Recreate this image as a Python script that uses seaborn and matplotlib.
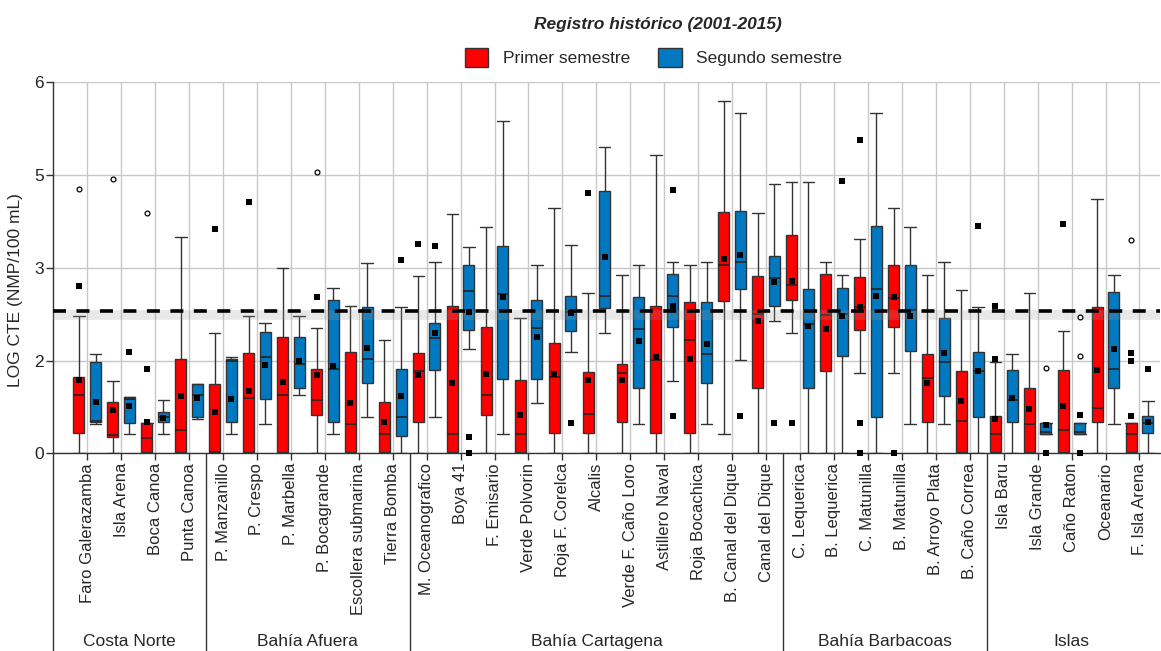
import numpy as np
import pandas as pd
import seaborn as sns
import matplotlib.pyplot as plt
import matplotlib.transforms as mtransforms
from matplotlib.patches import Patch

# --------------------------------------------------
# DATOS (log CTE, NMP/100 mL)
# --------------------------------------------------

estaciones = [
    "Faro Galerazamba", "Isla Arena", "Boca Canoa", "Punta Canoa",
    "P. Manzanillo", "P. Crespo", "P. Marbella", "P. Bocagrande",
    "Escollera submarina", "Tierra Bomba",
    "M. Oceanografico", "Boya 41", "F. Emisario", "Verde Polvorin",
    "Roja F. Corelca", "Alcalis", "Verde F. Caño Loro", "Astillero Naval",
    "Roja Bocachica", "B. Canal del Dique", "Canal del Dique",
    "C. Lequerica", "B. Lequerica", "C. Matunilla", "B. Matunilla",
    "B. Arroyo Plata", "B. Caño Correa",
    "Isla Baru", "Isla Grande", "Caño Raton", "Oceanario", "F. Isla Arena",
]
zonas = ["Costa Norte", "Bahía Afuera", "Bahía Cartagena", "Bahía Barbacoas", "Islas"]
n_por_zona = [4, 6, 11, 6, 5]

semestres = ["Primer semestre", "Segundo semestre"]
colores = ["#FF0000", "#0079C1"]

# primer semestre: bigote inf, Q1, mediana, Q3, bigote sup
p1_min = [0, 0, 0, 0, 0, 0, 0, 0, 0, 0,
          0, 0, 0, 0, 0, 0, 0, 0, 0, 0.31, 0,
          1.95, 0, 1.30, 1.30, 0, 0,
          0, 0, 0, 0, 0]
p1_q1 = [0.33, 0.27, 0.02, 0.02, 0.02, 0.02, 0.02, 0.62, 0.02, 0.02,
         0.50, 0.02, 0.62, 0.02, 0.33, 0.33, 0.50, 0.33, 0.33, 2.46, 1.06,
         2.48, 1.33, 2.00, 2.05, 0.50, 0.02,
         0.02, 0.02, 0.02, 0.50, 0.02]
p1_med = [0.95, 0.30, 0.25, 0.38, 0.02, 0.90, 0.95, 0.86, 0.47, 0.31,
          1.33, 0.31, 0.95, 0.31, 1.24, 0.63, 1.30, 1.51, 1.83, 3.05, 2.26,
          2.72, 2.24, 2.36, 2.51, 1.22, 0.53,
          0.31, 0.47, 0.38, 0.74, 0.31]
p1_q3 = [1.24, 0.83, 0.49, 1.52, 1.12, 1.62, 1.88, 1.37, 1.64, 0.83,
         1.62, 2.38, 2.04, 1.18, 1.79, 1.31, 1.44, 2.38, 2.44, 3.90, 2.86,
         3.53, 2.90, 2.85, 3.05, 1.60, 1.33,
         0.60, 1.05, 1.35, 2.36, 0.49]
p1_max = [2.22, 1.17, 0.49, 3.49, 1.95, 2.22, 3.00, 2.03, 2.38, 1.83,
          2.87, 3.87, 3.66, 2.18, 3.97, 2.60, 2.89, 4.83, 3.04, 5.69, 3.89,
          4.38, 3.10, 3.46, 3.97, 2.89, 2.64,
          1.48, 2.60, 1.97, 4.12, 0.49]

# segundo semestre
p2_min = [0.47, 0.31, 0.31, 0.55, 0.31, 0.47, 0.95, 0.31, 0.59, 0,
          0.59, 1.68, 0.31, 0.82, 1.64, 1.95, 0.47, 1.17, 0.47, 1.51, 2.14,
          0, 0, 0, 0.47, 0.47, 0,
          0, 0.31, 0.31, 0.47, 0]
p2_q1 = [0.50, 0.49, 0.50, 0.58, 0.50, 0.87, 1.06, 0.50, 1.13, 0.28,
         1.35, 2.00, 1.20, 1.20, 1.98, 2.35, 1.06, 2.05, 1.13, 2.65, 2.38,
         1.06, 1.58, 0.58, 1.65, 0.93, 0.58,
         0.50, 0.31, 0.31, 1.06, 0.33]
p2_med = [0.52, 0.88, 0.59, 0.95, 1.50, 1.56, 1.45, 1.36, 1.53, 0.59,
          1.86, 2.62, 2.57, 2.03, 2.29, 2.55, 2.01, 2.55, 1.61, 3.10, 2.83,
          2.09, 2.25, 2.66, 2.31, 1.48, 1.33,
          0.86, 0.34, 0.34, 1.36, 0.49]
p2_q3 = [1.48, 0.91, 0.66, 1.12, 1.52, 1.96, 1.88, 2.48, 2.36, 1.37,
         2.11, 3.05, 3.36, 2.48, 2.54, 4.24, 2.52, 2.90, 2.45, 3.92, 3.19,
         2.65, 2.67, 3.67, 3.05, 2.19, 1.64,
         1.35, 0.49, 0.49, 2.61, 0.60]
p2_max = [1.61, 0.91, 0.86, 1.12, 1.55, 2.10, 2.22, 2.68, 3.08, 2.36,
          3.10, 3.33, 5.38, 3.04, 3.37, 4.96, 3.04, 3.10, 3.10, 5.51, 4.35,
          4.38, 2.89, 5.51, 3.66, 3.10, 2.36,
          1.60, 0.49, 0.49, 2.89, 0.84]

# cuadros negros (promedios)
prom1 = [1.19, 0.70, 0.51, 0.93, 0.66, 1.01, 1.16, 1.26, 0.81, 0.51,
         1.26, 1.14, 1.28, 0.62, 1.29, 1.19, 1.19, 1.56, 1.53, 3.14, 2.14,
         2.79, 2.01, 2.37, 2.52, 1.14, 0.85,
         0.55, 0.72, 0.76, 1.35, 0.60]
prom2 = [0.83, 0.77, 0.57, 0.90, 0.88, 1.43, 1.50, 1.41, 1.70, 0.93,
         1.95, 2.29, 2.52, 1.88, 2.27, 3.18, 1.82, 2.39, 1.77, 3.20, 2.77,
         2.06, 2.22, 2.54, 2.22, 1.62, 1.33,
         0.90, 0.46, 0.62, 1.68, 0.51]

# otros cuadros negros (estacion, semestre 0/1, valor)
extra_est = [0, 1, 2, 4, 5, 7, 9, 10, 10, 11, 11, 14, 15, 17, 17, 19, 20, 21,
             22, 23, 23, 23, 24, 26, 27, 27, 28, 29, 29, 31, 31, 31]
extra_sem = [0, 1, 0, 0, 0, 0, 1, 0, 1, 1, 1, 1, 0, 1, 1, 1, 1, 0,
             1, 0, 0, 0, 0, 1, 0, 0, 1, 0, 1, 0, 0, 1]
extra_val = [2.70, 1.64, 1.37, 3.62, 4.06, 2.53, 3.12, 3.39, 3.35, 0.26, 0.0,
             0.49, 4.21, 4.25, 0.61, 0.60, 0.49, 0.49, 4.40, 5.06, 0.49, 0.01,
             0.01, 3.68, 1.52, 2.38, 0.01, 3.71, 0.01, 1.50, 1.62, 1.37]

# valores atipicos (circulos abiertos)
atip_est = [0, 1, 2, 7, 28, 29, 29, 31]
atip_sem = [0, 0, 0, 0, 1, 1, 1, 0]
atip_val = [4.28, 4.44, 3.89, 4.55, 1.38, 2.21, 1.57, 3.45]

limite = 2.30  # log(200)
yticks = [0, 1.5, 3, 4.5, 6]
ytick_labels = ["0", "2", "3", "5", "6"]

# --------------------------------------------------
# TABLA LARGA PARA SEABORN
# --------------------------------------------------

rows = []
for sem, stats in zip(semestres, [(p1_min, p1_q1, p1_med, p1_q3, p1_max),
                                  (p2_min, p2_q1, p2_med, p2_q3, p2_max)]):
    for i, est in enumerate(estaciones):
        for s in stats:
            rows.append({"estacion": est, "semestre": sem, "log": s[i]})
df = pd.DataFrame(rows)

# --------------------------------------------------
# FIGURA
# --------------------------------------------------

sns.set_theme(style="whitegrid")
plt.rcParams["font.family"] = ["Liberation Sans", "DejaVu Sans"]

fig = plt.figure(figsize=(11.61, 6.51), dpi=100)
ax = fig.add_axes([0.0459, 0.3037, 0.9531, 0.5699])

ancho, hueco = 0.98, 0.34
sns.boxplot(
    data=df, x="estacion", y="log", hue="semestre",
    order=estaciones, hue_order=semestres, palette=colores, saturation=1,
    whis=(0, 100), showfliers=False, width=ancho, gap=hueco,
    linecolor="#333333", linewidth=1.0, legend=False, ax=ax,
    capwidths=0.34,
    medianprops={"color": "#222222", "linewidth": 1.2},
)

dx = [-ancho / 4, ancho / 4]
x1 = [i + dx[0] for i in range(len(estaciones))]
x2 = [i + dx[1] for i in range(len(estaciones))]
ax.scatter(x1, prom1, marker="s", s=22, color="black", zorder=6, linewidths=0)
ax.scatter(x2, prom2, marker="s", s=22, color="black", zorder=6, linewidths=0)
ax.scatter([e + dx[s] for e, s in zip(extra_est, extra_sem)], extra_val,
           marker="s", s=22, color="black", zorder=6, linewidths=0, clip_on=False)
ax.scatter([e + dx[s] for e, s in zip(atip_est, atip_sem)], atip_val,
           marker="o", s=12, facecolor="white", edgecolor="black",
           linewidths=0.9, zorder=6)

# limite 200 NMP/100 mL con sombra
ax.axhline(limite - 0.06, color="#9a9a9a", lw=7, alpha=0.22, zorder=5)
ax.axhline(limite, color="black", lw=2.6, dashes=(3.6, 2.9), zorder=7)

ax.set_xlim(-1.0, 31.6)
ax.set_ylim(0, 6)
ax.set_yticks(yticks)
ax.set_yticklabels(ytick_labels, fontsize=12.5)
ax.set_ylabel("LOG CTE (NMP/100 mL)", fontsize=12.5)
ax.yaxis.set_label_coords(-0.027, 0.44)
ax.set_xlabel("")
ax.set_xticks(range(len(estaciones)))
ax.set_xticklabels(estaciones, rotation=90, fontsize=12)
ax.tick_params(axis="both", direction="out", length=5, width=1, color="#333333",
               pad=2, bottom=True, left=True)

ax.grid(True, axis="both", color="#c8c8c8", lw=1)
ax.set_axisbelow(True)
for side in ["top", "right"]:
    ax.spines[side].set_visible(False)
for side in ["left", "bottom"]:
    ax.spines[side].set_color("#333333")
    ax.spines[side].set_linewidth(1)

# separadores y nombres de zonas
trans = mtransforms.blended_transform_factory(ax.transData, ax.transAxes)
bordes = [-1.0] + list(np.cumsum(n_por_zona) - 0.5)
for b in bordes[:-1]:
    ax.plot([b, b], [0, -0.54], transform=trans, color="#333333", lw=1,
            clip_on=False)
for k, z in enumerate(zonas):
    centro = (bordes[k] + bordes[k + 1]) / 2
    ax.text(centro, -0.506, z, transform=trans, ha="center", va="center",
            fontsize=12.5)

# titulo y leyenda
fig.text(0.567, 0.962, "Registro histórico (2001-2015)", ha="center", va="center",
         fontsize=12.5, fontweight="bold", fontstyle="italic")
handles = [Patch(facecolor=c, edgecolor="#333333", lw=1) for c in colores]
fig.legend(handles, semestres, loc="center", bbox_to_anchor=(0.563, 0.912),
           ncol=2, frameon=False, fontsize=12.5, handlelength=1.35,
           handleheight=1.3, handletextpad=0.85, columnspacing=1.6)

fig.savefig("out.png", dpi=100)
